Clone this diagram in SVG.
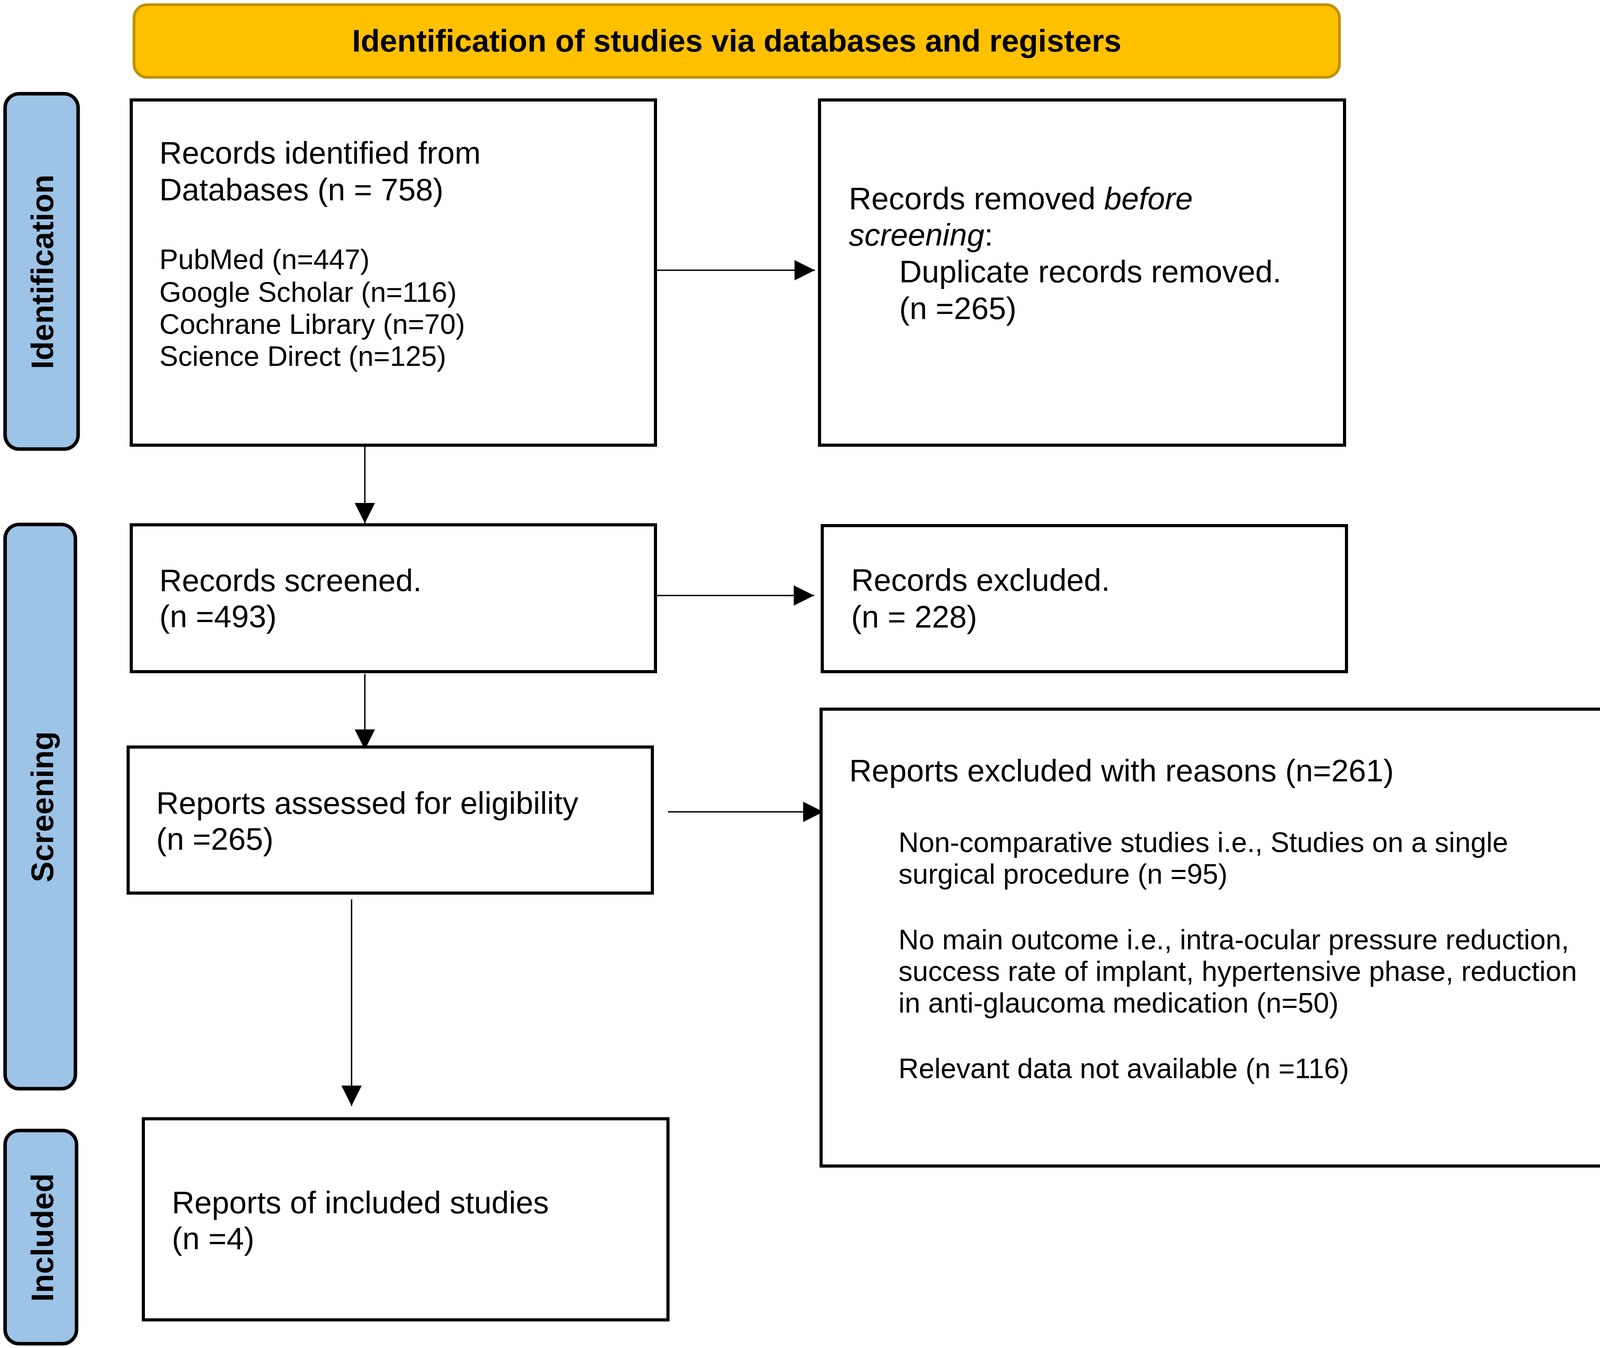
<svg xmlns="http://www.w3.org/2000/svg" width="4175" height="3452" viewBox="0 0 4175 3452">
<defs>
<style>
text{font-family:"Liberation Sans",Arial,sans-serif;fill:#000}
.box{fill:#fff;stroke:#000;stroke-width:8}
.side{fill:#9DC3E6;stroke:#000;stroke-width:9}
.sidet{font-size:80px;font-weight:bold;text-anchor:middle}
.t80{font-size:80px}
.t72{font-size:72px}
.conn{fill:none;stroke:#000;stroke-width:3.5}
</style>
<marker id="ah" markerUnits="userSpaceOnUse" markerWidth="54" markerHeight="54" refX="52" refY="26" orient="auto">
<path d="M0,0 L52,26 L0,52 Z" fill="#000"/>
</marker>
</defs>
<rect width="4175" height="3452" fill="#fff"/>

<g id="banner">
<rect x="343" y="12" width="3086" height="186" rx="34" ry="34" fill="#FFC000" stroke="#BF9000" stroke-width="7"/>
<text x="1886" y="132" font-size="80" font-weight="bold" text-anchor="middle">Identification of studies via databases and registers</text>
</g>

<g id="side-identification">
<rect class="side" x="13" y="240" width="187" height="910" rx="36" ry="36"/>
<text class="sidet" transform="rotate(-90 136 696)" x="136" y="696">Identification</text>
</g>
<g id="side-screening">
<rect class="side" x="13" y="1343" width="180" height="1445" rx="36" ry="36"/>
<text class="sidet" transform="rotate(-90 136 2066)" x="136" y="2066">Screening</text>
</g>
<g id="side-included">
<rect class="side" x="13" y="2895" width="183" height="546" rx="36" ry="36"/>
<text class="sidet" transform="rotate(-90 136 3169)" x="136" y="3169">Included</text>
</g>

<g id="connectors">
<line class="conn" x1="1678" y1="692" x2="2086" y2="692" marker-end="url(#ah)"/>
<line class="conn" x1="934" y1="1140" x2="934" y2="1340" marker-end="url(#ah)"/>
<line class="conn" x1="1678" y1="1525" x2="2084" y2="1525" marker-end="url(#ah)"/>
<line class="conn" x1="934" y1="1726" x2="934" y2="1920" marker-end="url(#ah)"/>
<line class="conn" x1="1710" y1="2079" x2="2108" y2="2079" marker-end="url(#ah)"/>
<line class="conn" x1="900" y1="2303" x2="900" y2="2832" marker-end="url(#ah)"/>
</g>

<g id="node-identified">
<rect class="box" x="336" y="256" width="1342" height="884"/>
<text class="t80" x="408" y="419">Records identified from</text>
<text class="t80" x="408" y="513">Databases (n = 758)</text>
<text class="t72" x="408" y="689">PubMed (n=447)</text>
<text class="t72" x="408" y="773">Google Scholar (n=116)</text>
<text class="t72" x="408" y="855">Cochrane Library (n=70)</text>
<text class="t72" x="408" y="937">Science Direct (n=125)</text>
</g>

<g id="node-removed">
<rect class="box" x="2098" y="256" width="1344" height="884"/>
<text class="t80" x="2173" y="536">Records removed <tspan font-style="italic">before</tspan></text>
<text class="t80" x="2173" y="629"><tspan font-style="italic">screening</tspan>:</text>
<text class="t80" x="2302" y="723">Duplicate records removed.</text>
<text class="t80" x="2302" y="817">(n =265)</text>
</g>

<g id="node-screened">
<rect class="box" x="336" y="1344" width="1342" height="376"/>
<text class="t80" x="408" y="1514">Records screened.</text>
<text class="t80" x="408" y="1606">(n =493)</text>
</g>

<g id="node-excluded">
<rect class="box" x="2105" y="1346" width="1342" height="374"/>
<text class="t80" x="2179" y="1513">Records excluded.</text>
<text class="t80" x="2179" y="1607">(n = 228)</text>
</g>

<g id="node-assessed">
<rect class="box" x="328" y="1913" width="1342" height="374"/>
<text class="t80" x="400" y="2084">Reports assessed for eligibility</text>
<text class="t80" x="400" y="2176">(n =265)</text>
</g>

<g id="node-reasons">
<rect class="box" x="2102" y="1816" width="2061" height="1170"/>
<text class="t80" x="2174" y="2001">Reports excluded with reasons (n=261)</text>
<text class="t72" x="2300" y="2182">Non-comparative studies i.e., Studies on a single</text>
<text class="t72" x="2300" y="2263">surgical procedure (n =95)</text>
<text class="t72" x="2300" y="2431">No main outcome i.e., intra-ocular pressure reduction,</text>
<text class="t72" x="2300" y="2512">success rate of implant, hypertensive phase, reduction</text>
<text class="t72" x="2300" y="2593">in anti-glaucoma medication (n=50)</text>
<text class="t72" x="2300" y="2761">Relevant data not available (n =116)</text>
</g>

<g id="node-included">
<rect class="box" x="367" y="2865" width="1343" height="515"/>
<text class="t80" x="440" y="3107">Reports of included studies</text>
<text class="t80" x="440" y="3199">(n =4)</text>
</g>
</svg>
